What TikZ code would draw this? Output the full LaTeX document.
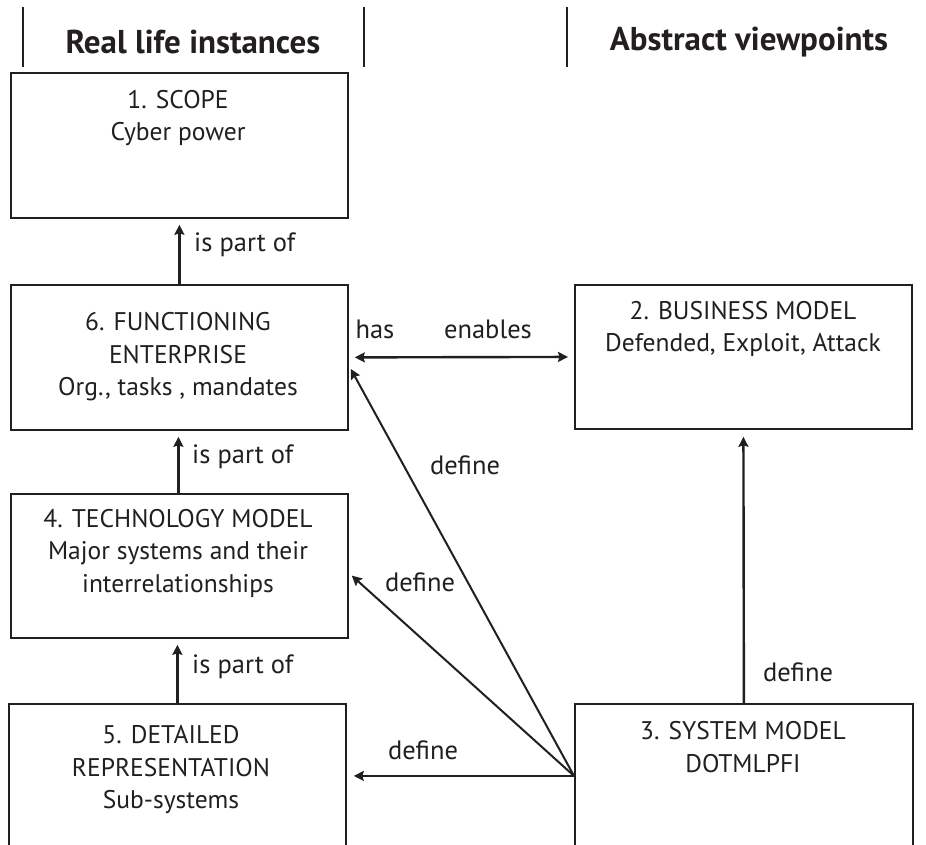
\documentclass[tikz,border=0pt]{standalone}
\usepackage{fontspec}
\setmainfont{PT Sans}
\newfontfamily\hdrfont{PT Sans}
\usetikzlibrary{arrows.meta,calc}
\definecolor{ink}{HTML}{231F20}
\begin{document}
\begin{tikzpicture}[x=1pt,y=-1pt,
  box/.style={draw=ink, line width=1.8pt, inner sep=0pt, anchor=north west},
  txt/.style={text=ink, font=\fontsize{25.5}{32.5}\selectfont, align=center, inner sep=0pt},
  hdr/.style={text=ink, font=\hdrfont\bfseries\fontsize{33}{36}\selectfont, inner sep=0pt},
  lbl/.style={text=ink, font=\fontsize{26.5}{30}\selectfont, inner sep=0pt},
  sepline/.style={draw=ink, line width=1.4pt},
  conn/.style={draw=ink, line width=2.4pt, -{Stealth[length=10pt,width=10pt,inset=1.5pt]}},
  dconn/.style={draw=ink, line width=2.4pt, {Stealth[length=10pt,width=10pt,inset=1.5pt]}-{Stealth[length=10pt,width=10pt,inset=1.5pt]}},
  diag/.style={draw=ink, line width=2pt, -{Stealth[length=10pt,width=10pt,inset=1.5pt]}}
]
\clip (0,0) rectangle (926,844);
\fill[white] (0,0) rectangle (926,844);

% header
\coordinate (h1t) at (23,7);   \coordinate (h1b) at (23,67);
\coordinate (h2t) at (364,7);  \coordinate (h2b) at (364,67);
\coordinate (h3t) at (567,7);  \coordinate (h3b) at (567,67);
\draw[sepline] (h1t) -- (h1b);
\draw[sepline] (h2t) -- (h2b);
\draw[sepline] (h3t) -- (h3b);
\node[hdr] (hreal) at (193,42) {Real life instances};
\node[hdr] (habs) at (749,42) {Abstract viewpoints};

% boxes
\node[box, minimum width=337pt, minimum height=145pt] (b1) at (10,72) {};
\node[box, minimum width=337pt, minimum height=145pt] (b6) at (10,284) {};
\node[box, minimum width=337pt, minimum height=144pt] (b4) at (10,493) {};
\node[box, minimum width=337pt, minimum height=148pt] (b5) at (8,703) {};
\node[box, minimum width=337pt, minimum height=144pt] (b2) at (574,284) {};
\node[box, minimum width=338pt, minimum height=148pt] (b3) at (574,703) {};

% box texts
\node[txt] (t1) at (178,118) {1. SCOPE\\Cyber power};
\node[txt] (t6) at (178,357) {6. FUNCTIONING\\ENTERPRISE\\Org., tasks , mandates};
\node[txt] (t4) at (178,553) {4. TECHNOLOGY MODEL\\Major systems and their\\interrelationships};
\node[txt] (t5) at (171,770) {5. DETAILED\\REPRESENTATION\\Sub-systems};
\node[txt] (t2) at (743,329) {2. BUSINESS MODEL\\Defended, Exploit, Attack};
\node[txt] (t3) at (743,747) {3. SYSTEM MODEL\\DOTMLPFI};

% vertical connectors
\draw[conn, shorten >=6pt] (b6.north) -- (b1.south);
\draw[conn, shorten >=6pt] ($(b4.north)+(-1,0)$) -- ($(b6.south)+(-1,0)$);
\draw[conn, shorten >=6pt] ($(b5.north)+(0,0)$) -- ($(b4.south)+(-2,0)$);
\draw[conn, shorten >=7pt] ($(b3.north)+(0,0)$) -- (b2.south);

% has / enables
\draw[dconn, shorten >=6pt, shorten <=6pt] (b6.east) -- (b2.west);

% define connectors from system model
\coordinate (src) at ($(b3.west)+(0,-2)$);
\draw[diag, shorten >=4pt] (src) -- ($(b6.east)+(0,8)$);
\draw[diag, shorten >=4pt] (src) -- ($(b4.east)+(0,7)$);
\draw[conn, shorten >=7pt] (src) -- ($(b5.east)+(0,-2)$);

% labels
\node[lbl, anchor=west] (l1) at (194,245) {is part of};
\node[lbl, anchor=west] (l2) at (192,457) {is part of};
\node[lbl, anchor=west] (l3) at (192,667) {is part of};
\node[lbl] (lhas) at (375,329) {has};
\node[lbl] (len) at (488,329) {enables};
\node[lbl] (ld1) at (465,465) {define};
\node[lbl] (ld2) at (420,582) {define};
\node[lbl] (ld3) at (423,750) {define};
\node[lbl] (ld4) at (798,672) {define};
\end{tikzpicture}
\end{document}
